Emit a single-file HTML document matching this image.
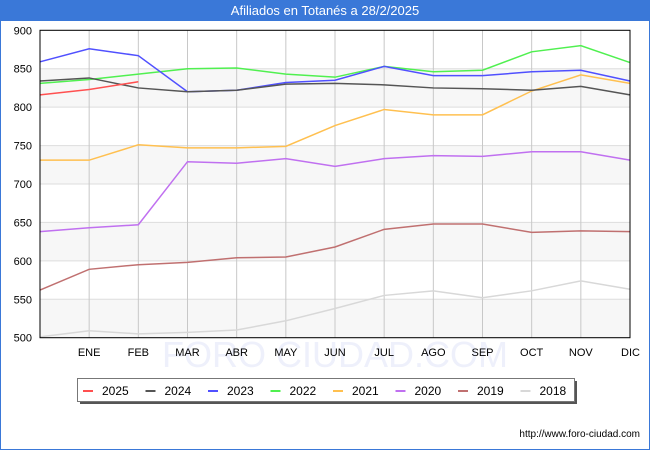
<!DOCTYPE html>
<html><head><meta charset="utf-8"><style>
body{margin:0;width:650px;height:450px;overflow:hidden;background:#fff;font-family:"Liberation Sans",sans-serif}
</style></head><body>
<svg width="650" height="450" style="display:block">
<rect x="0.5" y="0.5" width="649" height="449" fill="#fff" stroke="#3a78d8"/>
<rect x="0" y="0" width="650" height="21" fill="#3a78d8"/>
<text x="325" y="15" text-anchor="middle" font-size="13" fill="#fff">Afiliados en Totanés a 28/2/2025</text>
<g id="bands"></g><g id="grid"></g>
<text x="335" y="367" text-anchor="middle" font-size="36" fill="#eef0fb">FORO CIUDAD.COM</text>
<g id="series"></g>
<rect x="40" y="30.3" width="590" height="307.4" fill="none" stroke="#000"/>
<g id="axes" font-size="11" fill="#000"></g>
<rect x="80" y="381" width="497" height="23" fill="#555"/>
<rect x="77.5" y="378.5" width="497" height="23" fill="#fff" stroke="#777"/>
<g id="legend" font-size="12"></g>
<text x="640" y="437" text-anchor="end" font-size="10" fill="#000">http://www.foro-ciudad.com</text>
</svg>
<script>
const months=["","ENE","FEB","MAR","ABR","MAY","JUN","JUL","AGO","SEP","OCT","NOV","DIC"];
const yTicks=[500,550,600,650,700,750,800,850,900];
const years=["2025","2024","2023","2022","2021","2020","2019","2018"];
const colors=["#ff5050","#555555","#5050ff","#50f050","#ffc050","#c070f0","#c07070","#d8d8d8"];
const s2025=[816,823,833];
const s2024=[834,838,825,820,822,830,831,829,825,824,822,827,816];
const s2023=[859,876,867,820,822,832,835,853,841,841,846,848,834];
const s2022=[831,836,843,850,851,843,839,853,846,848,872,880,858];
const s2021=[731,731,751,747,747,749,776,797,790,790,821,842,831];
const s2020=[638,643,647,729,727,733,723,733,737,736,742,742,731];
const s2019=[562,589,595,598,604,605,618,641,648,648,637,639,638];
const s2018=[501,509,505,507,510,522,538,555,561,552,561,574,563];
const allSeries=[s2025,s2024,s2023,s2022,s2021,s2020,s2019,s2018];
const NS="http://www.w3.org/2000/svg";
const X0=40,X1=630,Y0=337.7,Y1=30.3;
const xs=i=>X0+i*(X1-X0)/12;
const ys=v=>Y0-(v-500)*(Y0-Y1)/400;
function mk(t,a,p){const e=document.createElementNS(NS,t);for(const k in a)e.setAttribute(k,a[k]);p.appendChild(e);return e;}
const bands=document.getElementById('bands'),grid=document.getElementById('grid'),axes=document.getElementById('axes'),ser=document.getElementById('series'),leg=document.getElementById('legend');
for(let i=0;i<yTicks.length-1;i+=2){
 const r=mk('rect',{x:X0,y:ys(yTicks[i+1]),width:X1-X0,height:ys(yTicks[i])-ys(yTicks[i+1]),fill:'#f7f7f7'},bands);
 
 
}
yTicks.forEach(v=>{
 const l=mk('line',{x1:X0,x2:X1,y1:ys(v),y2:ys(v),stroke:'#dddddd'},grid);
 
 
 const t=mk('text',{x:X0-8,y:ys(v)+4,'text-anchor':'end'},axes);t.textContent=v;
 
 
});
months.forEach((m,i)=>{
 if(i>0&&i<12){const l=mk('line',{x1:xs(i),x2:xs(i),y1:Y1,y2:Y0,stroke:'#c8c8c8'},grid);
 
 }
 if(m){const t=mk('text',{x:xs(i),y:356,'text-anchor':i==12?'end':'middle'},axes);t.textContent=m;
 if(i==12)t.setAttribute('x',xs(i)+10);
 
 }
});
for(let k=allSeries.length-1;k>=0;k--){
 const d=allSeries[k].map((v,i)=>xs(i)+','+ys(v)).join(' ');
 const p=mk('polyline',{points:d,fill:'none',stroke:colors[k],'stroke-width':1.5},ser);
 
 
}
years.forEach((y,k)=>{
 const x=83+k*62.5;
 const l=mk('line',{x1:x,x2:x+10,y1:391,y2:391,stroke:colors[k],'stroke-width':2},leg);
 
 
 const t=mk('text',{x:x+19,y:395},leg);t.textContent=y;
 
 
});
</script>
</body></html>
